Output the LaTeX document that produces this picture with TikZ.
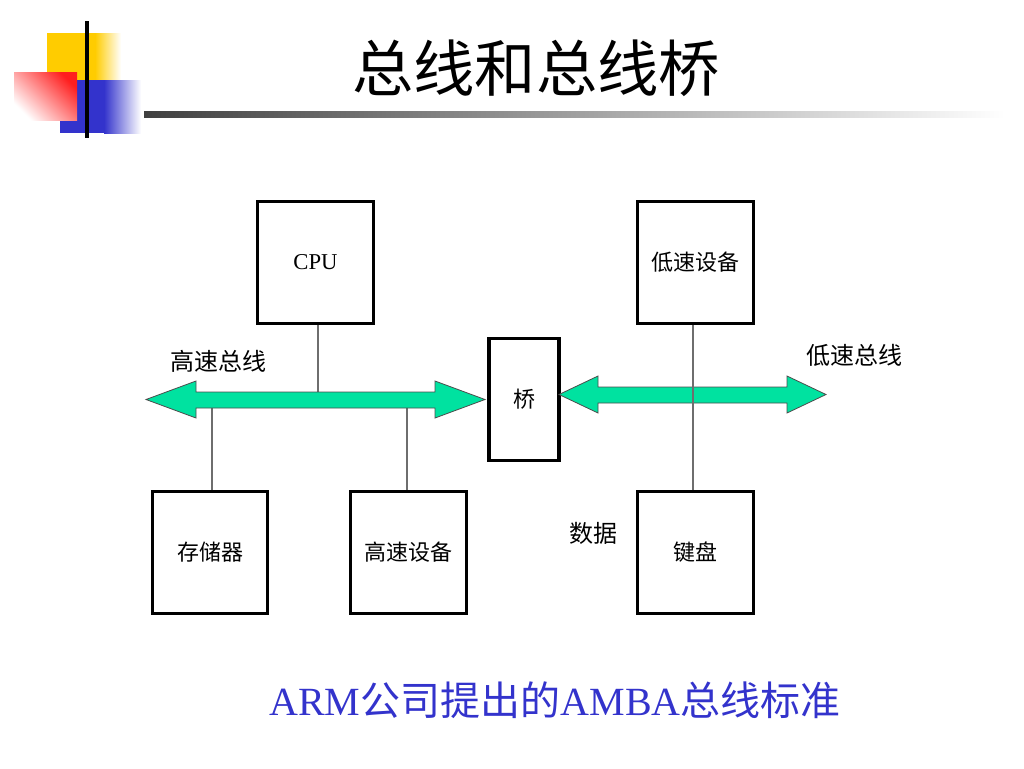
\documentclass[tikz,border=0pt]{standalone}
\usepackage{fontspec}
\setmainfont{Liberation Serif}
\newfontfamily\cjk{Noto Sans CJK SC}
\definecolor{busgreen}{RGB}{0,226,160}
\definecolor{logoyellow}{RGB}{255,204,0}
\definecolor{logoblue}{RGB}{51,51,204}
\definecolor{logored}{RGB}{255,30,30}
\definecolor{captionblue}{RGB}{51,51,204}
\definecolor{wiregray}{RGB}{110,110,110}
\begin{document}
\begin{tikzpicture}[x=0.75pt,y=-0.75pt,
  blockbox/.style={draw=black, line width=2.4pt, fill=white, inner sep=0pt,
     minimum width=86.5pt, minimum height=92pt, font=\cjk\fontsize{16.5}{18}\selectfont},
  wire/.style={draw=wiregray, line width=1.1pt},
  bus/.style={fill=busgreen, draw=black!70, line width=0.6pt, line join=miter},
  buslabel/.style={font=\cjk\fontsize{18}{20}\selectfont, inner sep=0pt}]
\useasboundingbox (0,0) rectangle (1024,768);
% logo
\fill[logoyellow] (47,33) rectangle (95,80);
\shade[left color=logoyellow, right color=white] (95,33) rectangle (121,80);
\fill[logoblue] (60,80) rectangle (104,133);
\shade[left color=logoblue, right color=white] (104,80) rectangle (141,133);
\shade[shading=axis, top color=logored, bottom color=white, shading angle=-45] (14,72) rectangle (77,120);
\draw[black, line width=3pt] (87,21) -- (87,138);
\shade[left color=black!75, right color=white] (144,111) rectangle (1005,117);
% title
\node[font=\cjk\fontsize{46}{50}\selectfont, inner sep=0pt] (title) at (536,68) {总线和总线桥};
% boxes
\node[blockbox, font=\fontsize{17}{19}\selectfont] (cpu) at (315.5,262.5) {CPU};
\node[blockbox] (slow) at (695.5,262.5) {低速设备};
\node[blockbox, minimum width=52.5pt] (bridge) at (524,399.5) {桥};
\node[blockbox] (mem) at (210,552.5) {存储器};
\node[blockbox] (fast) at (408.5,552.5) {高速设备};
\node[blockbox] (kbd) at (695.5,552.5) {键盘};
% bus attachment points
\coordinate (hcpu) at (318,400);
\coordinate (hmem) at (212,400);
\coordinate (hfast) at (407,400);
% wires to high-speed bus
\draw[wire] (cpu.south -| hcpu) -- (hcpu);
\draw[wire] (mem.north -| hmem) -- (hmem);
\draw[wire] (fast.north -| hfast) -- (hfast);
% high-speed bus
\path[bus] (146,399.5) -- (196,381) -- (196,392) -- (435,392) -- (435,381) -- (485,399.5)
   -- (435,418) -- (435,408) -- (196,408) -- (196,418) -- cycle;
% low-speed bus
\path[bus] (559,394.5) -- (598,376) -- (598,387) -- (787,387) -- (787,376) -- (826,394.5)
   -- (787,413) -- (787,403) -- (598,403) -- (598,413) -- cycle;
% wire through low-speed bus
\coordinate (lslow) at (693,300);
\draw[wire] (slow.south -| lslow) -- (kbd.north -| lslow);
% labels
\node[buslabel] (hlabel) at (218,361) {高速总线};
\node[buslabel] (llabel) at (854,355) {低速总线};
\node[buslabel] (dlabel) at (593,533) {数据};
% caption
\node[text=captionblue, font=\fontsize{30}{34}\selectfont, inner sep=0pt] (caption) at (555,700)
  {ARM{\cjk 公司提出的}AMBA{\cjk 总线标准}};
\end{tikzpicture}
\end{document}
